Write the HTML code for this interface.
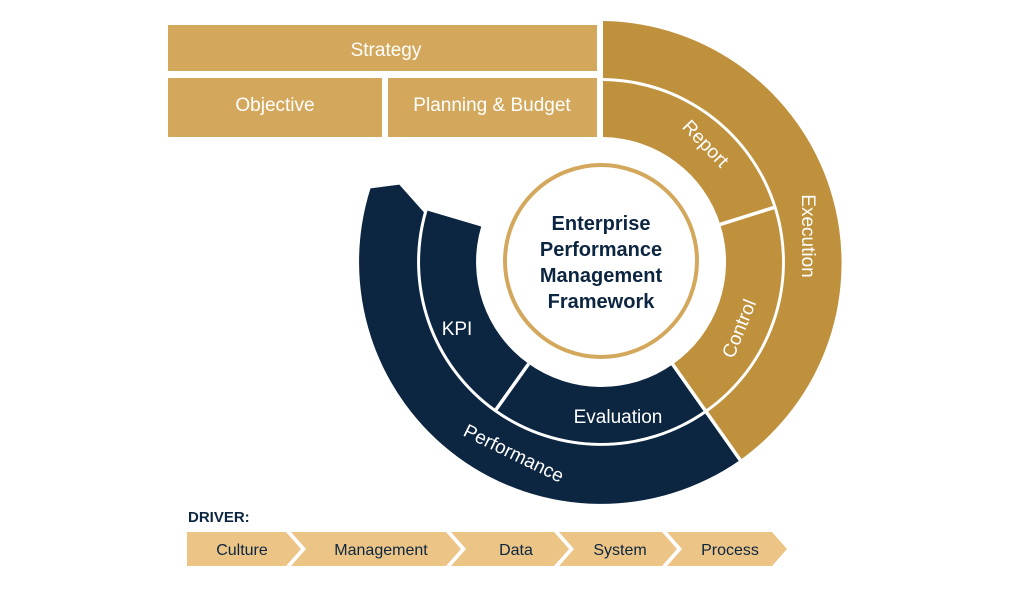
<!DOCTYPE html>
<html><head><meta charset="utf-8"><style>
html,body{margin:0;padding:0;background:#fff;}
svg{display:block;}
text{font-family:"Liberation Sans",sans-serif;}
</style></head><body>
<svg width="1024" height="592" viewBox="0 0 1024 592" xmlns="http://www.w3.org/2000/svg">
<!-- top boxes -->
<rect x="168" y="25" width="429" height="46" fill="#D4A85C"/>
<rect x="168" y="78" width="214" height="59" fill="#D4A85C"/>
<rect x="388" y="78" width="209" height="59" fill="#D4A85C"/>
<g fill="#fff" font-size="19" text-anchor="middle">
<text x="386" y="56">Strategy</text>
<text x="275" y="111">Objective</text>
<text x="492" y="111">Planning &amp; Budget</text>
</g>
<!-- rings -->
<path d="M603,21 A242,242 0 0 1 739.8,460.2 L706.5,412.7 A184,184 0 0 0 603,78 Z" fill="#BF913D"/>
<path d="M603,81 A181,181 0 0 1 704.8,410.3 L672.7,364.4 A125,125 0 0 0 603,137 Z" fill="#BF913D"/>
<path d="M739.8,460.2 A242,242 0 0 1 370.5,188.4 L399.3,184.6 L423.9,212.2 A184,184 0 0 0 706.5,412.7 Z" fill="#0C2540"/>
<path d="M704.8,410.3 A181,181 0 0 1 427.5,210.6 L481.2,226.5 A125,125 0 0 0 672.7,364.4 Z" fill="#0C2540"/>
<g stroke="#fff" stroke-width="3.5">
<line x1="720.2" y1="224.4" x2="775.6" y2="207"/>
<line x1="528.6" y1="363.9" x2="495" y2="411"/>
<line x1="669.8" y1="360.3" x2="743" y2="464"/>
</g>
<circle cx="601" cy="261" r="96" fill="#fff" stroke="#D4A85C" stroke-width="4"/>
<g fill="#0C2540" font-size="20" font-weight="bold" text-anchor="middle">
<text x="601" y="230">Enterprise</text>
<text x="601" y="256">Performance</text>
<text x="601" y="282">Management</text>
<text x="601" y="308">Framework</text>
</g>
<g fill="#fff" font-size="19" text-anchor="middle">
<text transform="translate(701,148) rotate(46)">Report</text>
<text transform="translate(802,236) rotate(90)">Execution</text>
<text transform="translate(745,331) rotate(-68)">Control</text>
<text x="457" y="335">KPI</text>
<text x="618" y="423">Evaluation</text>
<text transform="translate(511,459) rotate(26)">Performance</text>
</g>
<!-- driver -->
<text x="188" y="522" font-size="15" font-weight="bold" fill="#0C2540">DRIVER:</text>
<g fill="#EBC486">
<polygon points="187,532 286,532 301,549 286,566 187,566"/>
<polygon points="291,532 446,532 461,549 446,566 291,566 306,549"/>
<polygon points="451,532 554,532 569,549 554,566 451,566 466,549"/>
<polygon points="559,532 662,532 677,549 662,566 559,566 574,549"/>
<polygon points="667,532 772,532 787,549 772,566 667,566 682,549"/>
</g>
<g fill="#0C2540" font-size="16" text-anchor="middle">
<text x="242" y="555">Culture</text>
<text x="381" y="555">Management</text>
<text x="516" y="555">Data</text>
<text x="620" y="555">System</text>
<text x="730" y="555">Process</text>
</g>
</svg>
</body></html>
